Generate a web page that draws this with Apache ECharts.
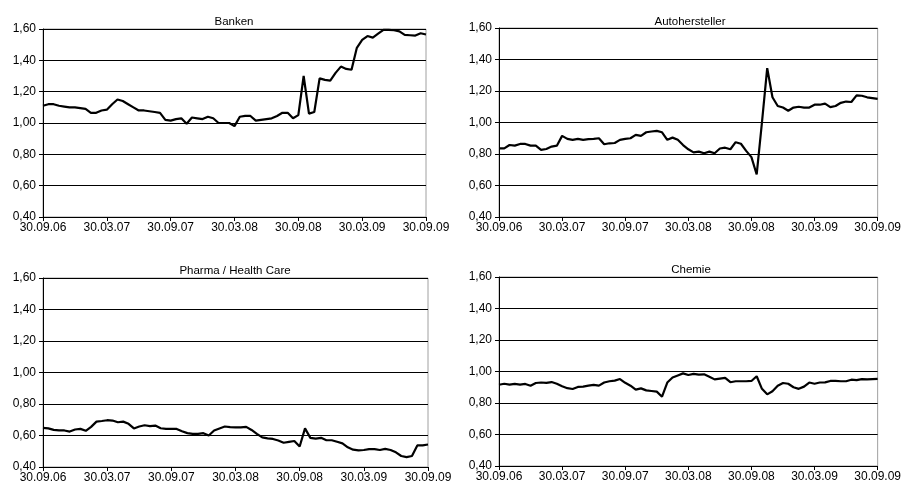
<!DOCTYPE html>
<html lang="de">

<head>
    <meta charset="UTF-8">
    <title>Branchen</title>
    <script src="https://cdn.jsdelivr.net/npm/echarts@6/dist/echarts.min.js"></script>
    <style>
        body {
            margin: 0;
            background: #fff;
        }

        #root {
            width: 904px;
            height: 489px;
        }
    </style>
</head>

<body>

    <div id="root"></div>
    <script>

        // x-Achse: Monate seit 30.09.06, Werte alle halbe Monate
        var tickLabels = ['30.09.06', '30.03.07', '30.09.07', '30.03.08', '30.09.08', '30.03.09', '30.09.09'];
        var step = 0.5;

        var banken = [
            1.11, 1.12, 1.12, 1.11, 1.105, 1.10, 1.10, 1.095, 1.09, 1.065,
            1.065, 1.08, 1.085, 1.12, 1.15, 1.14, 1.12, 1.10, 1.08, 1.08,
            1.075, 1.07, 1.065, 1.02, 1.015, 1.025, 1.03, 0.995, 1.035, 1.03,
            1.025, 1.04, 1.03, 1.00, 1.00, 1.00,
            0.98, 1.04, 1.045, 1.045,
            1.015, 1.02, 1.025, 1.03, 1.045, 1.065, 1.065, 1.03,
            1.05, 1.30, 1.06, 1.07, 1.285, 1.275, 1.27, 1.32,
            1.36, 1.345, 1.34, 1.48, 1.53, 1.555, 1.545, 1.57,
            1.595, 1.595, 1.592, 1.585, 1.562, 1.56, 1.558, 1.573, 1.565
        ];

        var autohersteller = [
            0.836, 0.836, 0.857, 0.853, 0.864, 0.864, 0.853, 0.853, 0.826, 0.832,
            0.847, 0.853, 0.915, 0.896, 0.89, 0.896, 0.89, 0.894, 0.896, 0.90,
            0.862, 0.868, 0.87, 0.89, 0.896, 0.90, 0.921, 0.915, 0.938, 0.943,
            0.947, 0.938, 0.89, 0.904, 0.89, 0.857,
            0.83, 0.81, 0.815, 0.805,
            0.815, 0.805, 0.835, 0.84, 0.83, 0.875, 0.865, 0.82,
            0.78, 0.67, 1.0, 1.345, 1.16, 1.105, 1.095, 1.075,
            1.095, 1.10, 1.095, 1.095, 1.113, 1.113, 1.12, 1.098,
            1.105, 1.125, 1.133, 1.13, 1.172, 1.17, 1.16, 1.155, 1.15
        ];

        var pharma = [
            0.648, 0.645, 0.636, 0.632, 0.632, 0.625, 0.638, 0.642, 0.63, 0.655,
            0.688, 0.692, 0.697, 0.695, 0.684, 0.688, 0.674, 0.645, 0.657, 0.665,
            0.66, 0.663, 0.646, 0.642, 0.642, 0.642, 0.627, 0.615, 0.61, 0.61,
            0.615, 0.60, 0.632, 0.645, 0.657, 0.653,
            0.652, 0.652, 0.655, 0.635,
            0.61, 0.588, 0.582, 0.578, 0.568, 0.554, 0.56, 0.565,
            0.53, 0.645, 0.585, 0.58, 0.585, 0.57, 0.57, 0.56,
            0.55, 0.525, 0.51, 0.506, 0.508, 0.514, 0.513, 0.508,
            0.515, 0.508, 0.493, 0.47, 0.463, 0.47, 0.537, 0.537, 0.543
        ];

        var chemie = [
            0.916, 0.922, 0.917, 0.921, 0.917, 0.921, 0.91, 0.927, 0.93, 0.928,
            0.933, 0.922, 0.906, 0.894, 0.889, 0.902, 0.904, 0.91, 0.915, 0.91,
            0.93, 0.938, 0.942, 0.952, 0.928, 0.91, 0.885, 0.893, 0.88, 0.876,
            0.872, 0.84, 0.93, 0.962, 0.975, 0.988,
            0.978, 0.985, 0.98, 0.982,
            0.967, 0.95, 0.955, 0.96, 0.932, 0.938, 0.938, 0.938,
            0.94, 0.97, 0.89, 0.855, 0.875, 0.91, 0.927, 0.922,
            0.90, 0.89, 0.904, 0.93, 0.922, 0.93, 0.931, 0.94,
            0.94, 0.938, 0.938, 0.948, 0.945, 0.952, 0.95, 0.952, 0.953
        ];

        var panels = [
            { name: 'Banken', data: banken, grid: { left: 43, top: 29, width: 383, height: 188 }, titleX: 229, titleY: 11 },
            { name: 'Autohersteller', data: autohersteller, grid: { left: 499, top: 28, width: 384, height: 189 }, titleX: 685, titleY: 11 },
            { name: 'Pharma / Health Care', data: pharma, grid: { left: 43, top: 278, width: 385, height: 189 }, titleX: 230, titleY: 260 },
            { name: 'Chemie', data: chemie, grid: { left: 499, top: 277, width: 384, height: 189 }, titleX: 686, titleY: 259 }
        ];

        var font = 'Liberation Sans, Arial, sans-serif';

        var mychart = echarts.init(document.getElementById('root'));

        var option = {
            animation: false,
            backgroundColor: '#fff',
            title: [],
            grid: [],
            xAxis: [],
            yAxis: [],
            series: []
        };

        panels.forEach(function (p, i) {
            option.title.push({
                text: p.name,
                left: p.titleX,
                top: p.titleY,
                textAlign: 'center',
                textStyle: { fontFamily: font, fontSize: 11.5, fontWeight: 'normal', color: '#000' }
            });
            option.grid.push(Object.assign({
                show: true,
                borderColor: '#a0a0a0',
                borderWidth: 1,
                backgroundColor: 'transparent'
            }, p.grid));
            option.xAxis.push({
                type: 'value',
                gridIndex: i,
                min: 0,
                max: 36,
                interval: 6,
                splitLine: { show: false },
                axisLine: { lineStyle: { color: '#000', width: 1 } },
                axisTick: { length: 4, lineStyle: { color: '#000' } },
                axisLabel: {
                    margin: 5,
                    color: '#000',
                    fontFamily: font,
                    fontSize: 12,
                    formatter: function (v) { return tickLabels[Math.round(v / 6)]; }
                }
            });
            option.yAxis.push({
                type: 'value',
                gridIndex: i,
                min: 0.4,
                max: 1.6,
                interval: 0.2,
                splitLine: { lineStyle: { color: '#000', width: 1 } },
                axisLine: { show: true, lineStyle: { color: '#000', width: 1 } },
                axisTick: { show: true, length: 4, lineStyle: { color: '#000' } },
                axisLabel: {
                    margin: 7,
                    color: '#000',
                    fontFamily: font,
                    fontSize: 12,
                    formatter: function (v) { return v.toFixed(2).replace('.', ','); }
                }
            });
            option.series.push({
                type: 'line',
                xAxisIndex: i,
                yAxisIndex: i,
                showSymbol: false,
                lineStyle: { color: '#000', width: 2.2 },
                data: p.data.map(function (v, k) { return [k * step, v]; })
            });
        });

        mychart.setOption(option);

    </script>

</body>

</html>
